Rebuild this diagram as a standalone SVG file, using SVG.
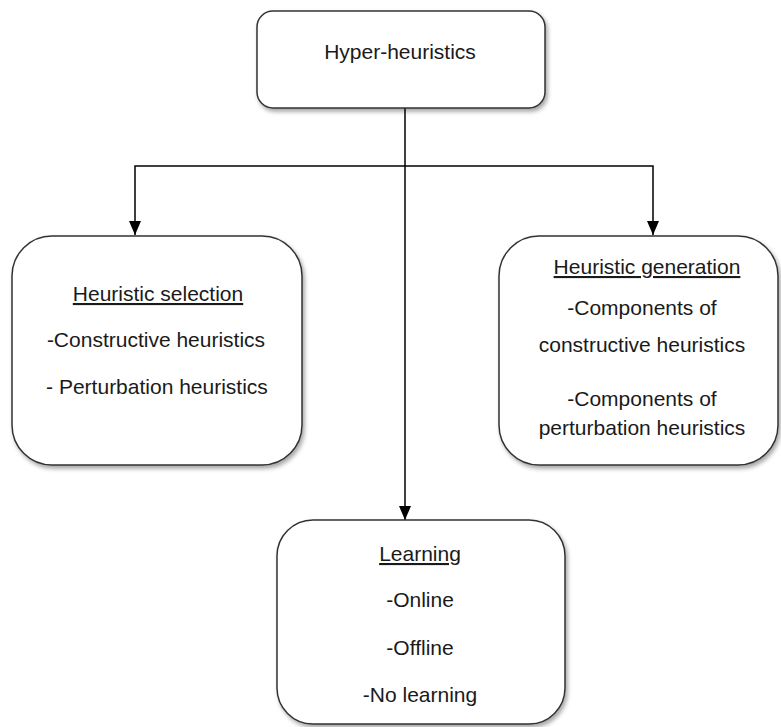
<svg xmlns="http://www.w3.org/2000/svg" width="781" height="727" viewBox="0 0 781 727">
  <defs>
    <filter id="shadow" x="-10%" y="-10%" width="125%" height="125%">
      <feDropShadow dx="2" dy="3" stdDeviation="2" flood-color="#000" flood-opacity="0.35"/>
    </filter>
    <marker id="arrow" viewBox="0 0 14 12" refX="14" refY="6" markerWidth="14" markerHeight="12" markerUnits="userSpaceOnUse" orient="auto-start-reverse">
      <path d="M0,0 L14,6 L0,12 Z" fill="#000"/>
    </marker>
    <style>
      .box { fill: #fff; stroke: #333; stroke-width: 1.5; filter: url(#shadow); }
      .lbl { font-family: "Liberation Sans", Arial, sans-serif; font-size: 21px; fill: #1a1a1a; text-anchor: middle; }
      .ul { text-decoration: underline; }
      .edge { fill: none; stroke: #000; stroke-width: 1.5; }
    </style>
  </defs>
  <rect width="781" height="727" fill="#fff"/>

  <g id="connectors">
    <line class="edge" x1="405" y1="108" x2="405" y2="520" marker-end="url(#arrow)"/>
    <path class="edge" d="M135,235 V166 H653 V235" marker-start="url(#arrow)" marker-end="url(#arrow)"/>
  </g>

  <g id="hyper-heuristics">
    <rect class="box" x="257" y="11" width="288" height="97" rx="16"/>
    <text class="lbl" x="400" y="59">Hyper-heuristics</text>
  </g>

  <g id="heuristic-selection">
    <rect class="box" x="12" y="236" width="290" height="229" rx="40"/>
    <text class="lbl ul" x="158" y="301">Heuristic selection</text>
    <text class="lbl" x="156" y="347">-Constructive heuristics</text>
    <text class="lbl" x="157" y="394">- Perturbation heuristics</text>
  </g>

  <g id="heuristic-generation">
    <rect class="box" x="499" y="236" width="279" height="229" rx="40"/>
    <text class="lbl ul" x="647" y="274">Heuristic generation</text>
    <text class="lbl" x="642" y="315">-Components of</text>
    <text class="lbl" x="642" y="352">constructive heuristics</text>
    <text class="lbl" x="642" y="406">-Components of</text>
    <text class="lbl" x="642" y="435">perturbation heuristics</text>
  </g>

  <g id="learning">
    <rect class="box" x="277" y="520" width="288" height="204" rx="36"/>
    <text class="lbl ul" x="420" y="561">Learning</text>
    <text class="lbl" x="420" y="607">-Online</text>
    <text class="lbl" x="420" y="655">-Offline</text>
    <text class="lbl" x="420" y="702">-No learning</text>
  </g>
</svg>
